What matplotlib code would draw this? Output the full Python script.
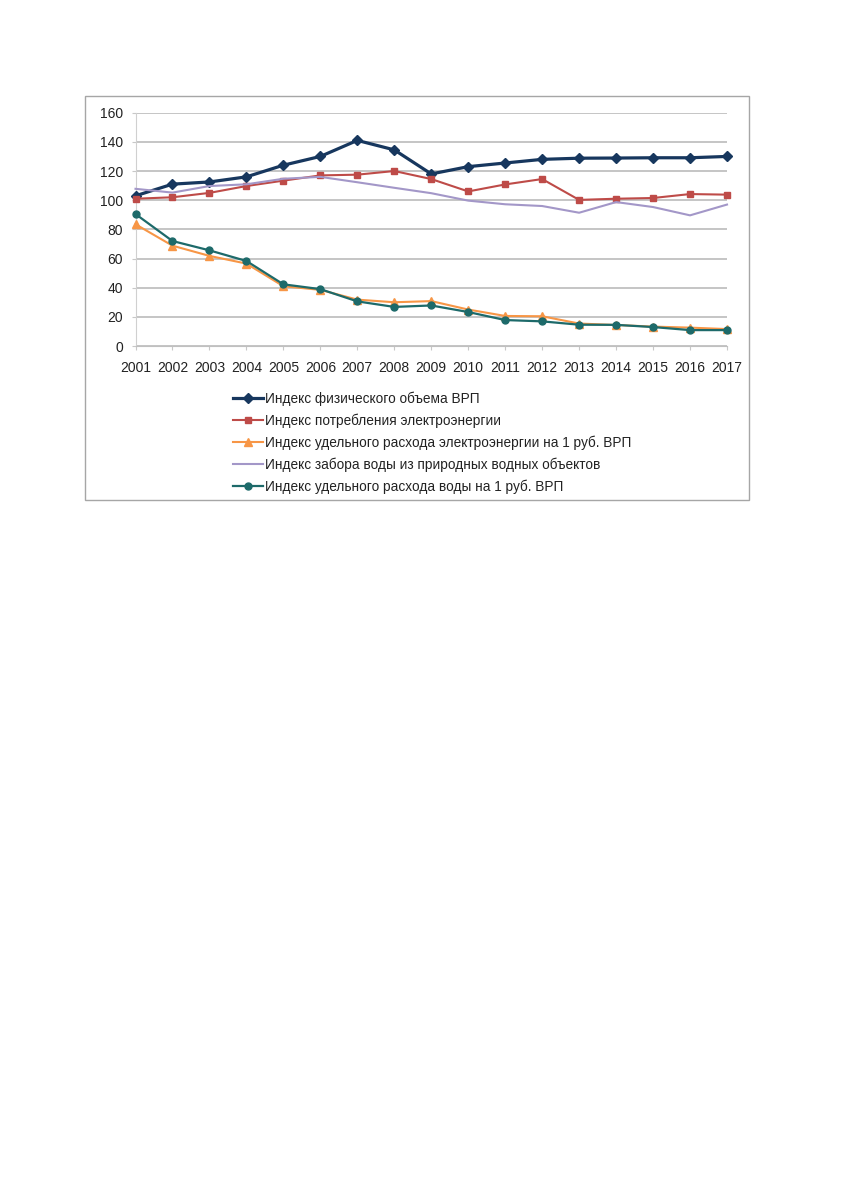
import matplotlib
matplotlib.use("Agg")
import matplotlib.pyplot as plt
from matplotlib.patches import Rectangle

plt.rcParams['font.family'] = ['Liberation Sans', 'DejaVu Sans']

years = list(range(2001, 2018))

gdp_volume = [103, 111, 112.5, 116, 124, 130, 141, 134.5, 118, 123, 125.5, 128,
              128.8, 128.9, 129.1, 129.1, 130]
power_use = [101, 102, 105, 109.7, 113.4, 117, 117.5, 120, 114.5, 106, 110.8,
             114.5, 100.2, 101, 101.5, 104.2, 103.8]
power_per_rub = [83.5, 68.8, 61.8, 56.5, 41, 38.5, 31.8, 30, 30.8, 25, 20.6,
                 20.4, 15.4, 14.4, 13.3, 12.6, 11.6]
water_intake = [107.8, 105.2, 109.7, 110.9, 114.7, 116, 112.3, 108.5, 104.8,
                99.7, 97.2, 96, 91.4, 98.7, 95.3, 89.6, 97]
water_per_rub = [90.5, 72, 65.6, 58.3, 42.3, 39, 30.6, 26.8, 27.8, 23.3, 17.8,
                 16.9, 14.6, 14.5, 13, 10.9, 10.9]

labels = [
    "Индекс физического объема ВРП",
    "Индекс потребления электроэнергии",
    "Индекс удельного расхода электроэнергии на 1 руб. ВРП",
    "Индекс забора воды из природных водных объектов",
    "Индекс удельного расхода воды на 1 руб. ВРП",
]

W, H = 856, 1181
fig = plt.figure(figsize=(W / 100, H / 100), dpi=100)
fig.patch.set_facecolor("white")

# chart frame (Excel chart area)
fig.patches.append(Rectangle((85 / W, 1 - 500 / H), (749 - 85) / W, (500 - 96) / H,
                             transform=fig.transFigure, fill=False,
                             edgecolor="#a6a6a6", linewidth=1.0))

x0, x1, ytop, ybot = 135.5, 727, 112.7, 346
ax = fig.add_axes([x0 / W, 1 - ybot / H, (x1 - x0) / W, (ybot - ytop) / H])

styles = [
    (gdp_volume, "#17375e", "D", 2.3, 4.6),
    (power_use, "#be4b48", "s", 1.5, 5.0),
    (power_per_rub, "#f79646", "^", 1.5, 5.5),
    (water_intake, "#a397c8", None, 1.5, 0),
    (water_per_rub, "#1d6a6a", "o", 1.6, 5.0),
]
for (vals, color, mk, lw, ms), lab in zip(styles, labels):
    ax.plot(years, vals, color=color, marker=mk, markersize=ms, linewidth=lw,
            markeredgecolor=color, markerfacecolor=color, label=lab, zorder=3,
            clip_on=False)

ax.set_xlim(2001, 2017)
ax.set_ylim(0, 160)
ax.set_xticks(years)
ax.set_yticks(range(0, 161, 20))
ax.grid(axis="y", color="#c0c0c0", linewidth=1.3)
ax.set_axisbelow(True)
for side in ("top", "right"):
    ax.spines[side].set_visible(False)
ax.spines["left"].set_color("#d0d0d0")
ax.spines["bottom"].set_color("#c0c0c0")
ax.tick_params(axis="both", colors="#c8c8c8", labelcolor="#222222",
               labelsize=10, length=3)
ax.tick_params(axis="x", pad=8)
ax.tick_params(axis="y", pad=6)

leg = fig.legend(loc="upper left", bbox_to_anchor=(228 / W, 1 - 386 / H),
                 frameon=False, fontsize=9.8, handlelength=2.2,
                 handletextpad=0.15, labelspacing=0.56, borderaxespad=0)
for t in leg.get_texts():
    t.set_color("#222222")

fig.savefig("out.png", dpi=100, facecolor="white")
